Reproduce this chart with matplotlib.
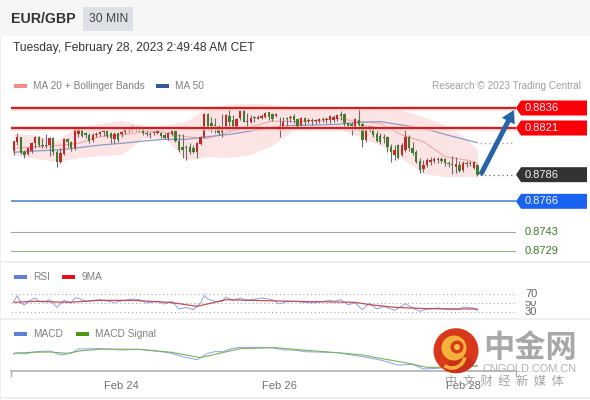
import matplotlib
matplotlib.use("Agg")
import matplotlib.pyplot as plt
from matplotlib.patches import Rectangle, Polygon, Circle, Arc, Wedge

plt.rcParams['font.family'] = ['Liberation Sans', 'DejaVu Sans']

# ---------- data (prices in 1e-4 units) ----------
opens = [8804,8810.8,8814.5,8802.8,8801.2,8803.8,8809.5,8814.5,8808.2,8808.2,8808.2,8813.2,8803.2,8795.8,8801.2,8812.5,8810.2,8805.8,8816.2,8820.8,8817,8815.8,8812,8815.8,8816.2,8817.8,8818.8,8817,8812.5,8817,8816.2,8817.8,8819.2,8819.5,8820.2,8821.2,8820,8817.5,8816.2,8817,8817.5,8817,8815.8,8813.8,8816.2,8818.8,8811.2,8807,8807,8807,8805.8,8803.2,8808.8,8814.5,8831.2,8824.5,8823.2,8822.5,8817.8,8820.8,8830.2,8827,8822,8828.2,8833.8,8825.2,8825.8,8828.8,8827.8,8828.2,8829.5,8832.8,8831.2,8830.2,8819.5,8822,8828.8,8828.2,8830.2,8827.8,8823.2,8828.8,8826.2,8826.8,8826.2,8826.5,8827.8,8826.8,8827,8827,8827.8,8831.2,8831.2,8824.5,8823.8,8820.8,8827,8823.8,8812,8819.5,8822.5,8816.2,8815.2,8813.8,8814.5,8807,8800.8,8808.2,8800.8,8804.5,8814.5,8806.2,8802.8,8796.2,8790.2,8793.2,8795.8,8796.2,8796.8,8797.5,8797.5,8795,8794,8792,8793.2,8789.5,8794,8795,8791.2,8793.2]
highs = [8811.2,8817,8814.5,8804.5,8807,8810.2,8815,8815,8813.2,8816.2,8814.5,8814.5,8804.5,8805.8,8813.2,8813.2,8811.2,8821.2,8822.8,8822,8818.2,8817,8817,8817.8,8818.8,8819.8,8819.5,8818.2,8817.8,8817,8818.8,8821.2,8821.2,8823.2,8822.8,8822,8821.2,8818.8,8817.8,8818.8,8819.5,8818.2,8817,8818.2,8819.5,8819.5,8816.2,8816.2,8808.2,8809.5,8808.2,8810.2,8815.2,8832,8832,8829.5,8828.8,8823.2,8831.2,8831.2,8835.2,8830.8,8828.8,8834.5,8835.2,8832,8830.8,8830.2,8830.8,8831.2,8833.2,8833.2,8832,8832,8829.5,8829.5,8829.5,8830.8,8831.2,8828.8,8829.5,8829.5,8828.8,8828.2,8827.8,8828.8,8829.2,8829.5,8830.8,8830.8,8831.2,8833.8,8832,8825.8,8825.8,8828.8,8835.8,8824.5,8823.2,8823.2,8822.8,8818.8,8817,8816.2,8815,8808.8,8808.2,8808.8,8809.5,8819.5,8815.8,8810.8,8804.5,8798.2,8797,8798.2,8799.5,8799.5,8799.5,8799.5,8798.2,8796.2,8800.2,8799.5,8796.2,8796.2,8796.2,8796.2,8796.2,8793.8]
lows = [8800.8,8808.2,8801.2,8798.8,8800.8,8802,8805.8,8807,8806.2,8806.2,8800.2,8800.8,8792,8794.5,8800.8,8807,8803.8,8804.5,8814.5,8814.5,8813.2,8809.5,8810.8,8814.5,8815.2,8815.2,8813.8,8809.5,8809.5,8810.2,8814.5,8816.2,8818.2,8818.8,8818.8,8818.8,8815.8,8815.2,8813.2,8815.8,8816.2,8813.2,8812.8,8812,8815.2,8810.2,8803.2,8798.2,8797,8801.2,8802,8798.2,8808.2,8813.2,8819.5,8818.2,8817,8815.8,8814.5,8819.5,8819.5,8819.5,8819.5,8827,8825.2,8820.8,8824.5,8825.2,8827.8,8827.8,8828.8,8827,8826.2,8829.5,8814.5,8819.5,8820.8,8825.2,8824.5,8820.8,8821.2,8823.2,8824.5,8823.2,8823.8,8824.5,8825.2,8824.5,8824.5,8825.2,8826.2,8827,8822,8820.8,8815.8,8819.5,8819.5,8807,8810.8,8818.2,8814.5,8810.8,8808.8,8809.5,8803.2,8795.8,8797,8797.8,8800.2,8803.2,8803.8,8800.8,8794.5,8787,8787.8,8792,8793.2,8794.5,8794.5,8794.5,8792.8,8792,8786.2,8787,8787.8,8788.2,8792,8792.8,8790.2,8784.8]
closes = [8811.2,8814.5,8802,8800.8,8805.8,8810,8814.5,8808.2,8807.5,8807.8,8813.8,8802.8,8795.8,8802,8812.8,8810.2,8805.8,8820.8,8820.8,8815.2,8815.8,8811.2,8815.8,8816.5,8817.8,8818.8,8815.2,8813.2,8816.5,8812,8817.8,8820,8820,8822,8822,8820,8817,8816.2,8815.8,8818.2,8818.8,8815.2,8813.8,8817,8818.8,8811.2,8804.5,8804.5,8806.2,8803.2,8803.2,8809.5,8814.5,8831.2,8822,8822.8,8822.5,8817,8822,8830.8,8825.8,8820.8,8827.8,8833.8,8825.8,8826.2,8828.8,8828.2,8829.5,8830.2,8832,8829.5,8827.8,8831.2,8822.5,8825.2,8827.8,8828.8,8827,8822,8828.8,8825.8,8827,8826,8826.8,8827.5,8826.8,8827.8,8830.2,8829.5,8830.8,8830.2,8824.5,8822.8,8822.8,8827.8,8823.2,8812,8819.5,8822.8,8815.8,8811.2,8810.8,8814.5,8807,8802.8,8804.5,8798.8,8808.2,8814.5,8805.8,8802,8795.8,8789.5,8793.2,8797,8797,8797.5,8797.8,8796.2,8794.5,8794.2,8793.2,8794,8788.8,8795,8795,8794,8795.2,8785.8]

band_idx = [0,6,12,18,24,30,36,42,48,54,60,66,72,78,84,90,96,102,108,114,120,126,129]
bb_upper = [8817,8815.8,8812,8822,8824.5,8826.8,8823.2,8823.2,8825.8,8837,8838.8,8839.5,8838.8,8837,8835.8,8834.5,8835.8,8835.2,8834.5,8829.5,8823.2,8813.2,8804.5]
bb_lower = [8800.8,8798.2,8795.8,8798.8,8800.2,8801.2,8813.2,8813.2,8797,8799.5,8798.8,8801.2,8808.2,8819.5,8820.8,8820.8,8814.5,8808.2,8798.2,8787,8784.5,8784.5,8784.5]
ma20 = [8805.8,8807,8807.8,8809.5,8814.5,8815.8,8818.2,8817.8,8814.5,8813.2,8818.2,8822,8826.2,8825.8,8826.2,8828.2,8825.8,8824.5,8815.8,8810.8,8799.5,8797,8794.5]
ma50 = [8802.8,8803.8,8804.5,8806.2,8808.2,8809.5,8811.2,8812.5,8812.5,8814.5,8816.2,8818.8,8821.5,8823,8823.2,8823.8,8825.2,8825.8,8823.2,8820.8,8816.2,8812,8810]

levels_main = [8836, 8821]
level_current = 8786
level_blue = 8766
levels_green = [8743, 8729]

rsi_idx = [0,1,2,3,4,6,7,9,10,12,14,16,17,18,20,24,28,31,33,35,37,40,42,44,46,48,50,52,53,54,56,58,59,61,63,65,69,72,74,76,78,83,88,89,91,93,95,97,99,101,103,106,109,111,113,115,118,121,124,125,128,129]
rsi = [53.7,66.3,50,45.6,53.7,61.1,53.7,53.7,57.4,40.4,55.9,50,61.1,60.4,53.7,57.4,51.5,55.9,58.9,57.4,50,53.7,47.8,53.7,36.7,40.4,35.2,50,67,58.9,53.7,53.7,63.3,55.9,61.1,55.9,61.1,57.4,47.8,53.7,53.7,50,55.9,53.7,57.4,46.3,50,35.2,50,36.7,42.6,33.7,48.5,38.9,31.5,36.7,38.9,35.2,35.2,41.1,38.9,33.7]
rsi_ma_idx = [0,6,15,24,33,43,46,51,56,59,66,78,95,99,106,115,128,129]
rsi_ma = [51.5,53.7,51.5,55.9,55.9,51.5,48.5,42.6,51.5,57.4,55.9,53.7,51.5,46.3,40.4,37.4,36.7,36]

macd_idx = [0,1,3,6,10,13,16,18,24,30,35,41,44,47,51,54,56,58,61,63,69,72,75,78,81,90,97,102,107,111,114,118,122,129]
macd = [1.8,2.2,1.8,2.5,2.7,1.5,2,3.3,3.4,3,3.2,2.5,2,1,.1,2,2.5,2.5,3.5,3.8,3.8,3.7,3,3,2.5,2.2,1,0,-1.5,-1.3,-2.7,-2.5,-2,-1.8]
sig_idx = [0,5,10,15,19,25,35,44,52,56,63,73,78,90,97,103,109,115,120,129]
macd_signal = [2,2.3,2.4,2,2.8,3.3,3.2,2.3,.7,1.7,3.4,3.7,3.2,2.2,1.5,.3,-.8,-2.2,-2.2,-1.8]

date_ticks = [30, 74, 125]
date_labels = ['Feb 24', 'Feb 26', 'Feb 28']

# ---------- layout ----------
W, H = 590, 400
fig = plt.figure(figsize=(W/100, H/100), dpi=100, facecolor='white')

def rect(x0, y0, x1, y1):
    return [x0/W, 1-y1/H, (x1-x0)/W, (y1-y0)/H]

X0, X1 = 11, 516
def ix(px):
    return (px-13.7)/3.594
xl = (ix(X0), ix(X1))

bg = fig.add_axes([0, 0, 1, 1], zorder=0)
bg.set_xlim(0, W); bg.set_ylim(H, 0); bg.axis('off')
bg.add_patch(Rectangle((0, 0), W, 36, fc='#f6f6f6', ec='none'))
bg.add_patch(Rectangle((83, 7), 50, 24, fc='#dde0e6', ec='none'))
bg.add_patch(Rectangle((0, 36), 1, H, fc='#eeeeee', ec='none'))
for y, c in [(262, '#eceef0'), (319, '#eceef0'), (398, '#eceef0')]:
    bg.plot([0, W], [y, y], color=c, lw=1.2)
bg.text(11, 19, 'EUR/GBP', fontsize=10.2, fontweight='bold', color='#333333', va='center')
bg.text(89, 19, '30 MIN', fontsize=8.7, color='#444444', va='center')
bg.text(13, 48, 'Tuesday, February 28, 2023 2:49:48 AM CET', fontsize=8.67, color='#333333', va='center')

def legend(x, y, c, label, tx):
    bg.add_patch(Rectangle((x, y-2), 12.5, 4, fc=c, ec='none'))
    bg.text(tx, y, label, fontsize=7.25, color='#808080', va='center')
legend(14, 86, '#f98a8a', 'MA 20 + Bollinger Bands', 33)
legend(156, 86, '#34589c', 'MA 50', 175)
legend(14, 277, '#5f7fdc', 'RSI', 33)
legend(62, 277, '#e8101c', '9MA', 82)
legend(14, 334, '#5f7fdc', 'MACD', 33)
legend(76, 334, '#4a9a10', 'MACD Signal', 95)
bg.text(581, 86, 'Research © 2023 Trading Central', fontsize=7.2, color='#a0a0a0', va='center', ha='right')

# ---------- main panel ----------
ax = fig.add_axes(rect(X0, 96, X1, 258), zorder=2)
ax.patch.set_alpha(0)
ax.axis('off')
ax.set_xlim(*xl)
ax.set_ylim(8836-(258-108)*0.75, 8836+(108-96)*0.75)

ax.fill_between(band_idx, bb_lower, bb_upper, color='#fde4e4', lw=0, zorder=1)
ax.plot(band_idx, ma20, color='#f4a5a5', lw=.8, zorder=2)
ax.plot(band_idx, ma50, color='#8a9cc4', lw=.9, zorder=2)

idx = list(range(len(closes)))
ax.vlines(idx, lows, highs, color='#6a6a6a', lw=.8, zorder=3)
for i, o, c in zip(idx, opens, closes):
    col = '#c22a28' if c >= o else '#3f7d2c'
    ax.bar(i, max(abs(c-o), .7), bottom=min(o, c), width=.66, color=col, lw=0, zorder=4)

for lv in levels_main:
    ax.axhline(lv, color='#fbcaca', lw=3.4, alpha=.7, zorder=5)
    ax.axhline(lv, color='#cf1f1f', lw=1.5, zorder=6)
ax.axhline(level_blue, color='#4a7bcf', lw=1.1, zorder=5)
for lv in levels_green:
    ax.axhline(lv, color='#8fb880', lw=.8, zorder=5)

ax.plot([129.8, ix(514)], [level_current]*2, color='#666666', lw=.9, ls=(0, (1, 2.5)), zorder=3)
ax.plot([129.8, ix(514)], [ma50[-1]]*2, color='#8f9fbf', lw=.9, ls=(0, (1, 2.5)), zorder=3)

ax.annotate('', xy=(ix(514), 8834.5), xytext=(ix(480.7), level_current),
            arrowprops=dict(width=3.6, headwidth=10.5, headlength=9, shrink=0, fc='#2a62a8', ec='#2a62a8', lw=0),
            zorder=7, annotation_clip=False)

def flag(level, label, color, tc='#f4f4f4'):
    hh = 7.5*0.75
    a, b, c = ix(516), ix(521), ix(587)
    ax.add_patch(Polygon([(a, level), (b, level+hh), (c, level+hh), (c, level-hh), (b, level-hh)],
                         closed=True, fc=color, ec='none', clip_on=False, zorder=8))
    ax.text(ix(525), level, label, color=tc, fontsize=8, va='center', zorder=9, clip_on=False)
flag(8836, '0.8836', '#fb0007')
flag(8821, '0.8821', '#fb0007')
flag(8786, '0.8786', '#333333')
flag(8766, '0.8766', '#1a62f0')
ax.text(ix(525), 8743, '0.8743', color='#3a7a22', fontsize=8, va='center', clip_on=False)
ax.text(ix(525), 8729, '0.8729', color='#3a7a22', fontsize=8, va='center', clip_on=False)

# ---------- RSI ----------
rax = fig.add_axes(rect(X0, 285, X1, 319), zorder=2)
rax.patch.set_alpha(0); rax.axis('off')
rax.set_xlim(*xl)
rax.set_ylim(50-(319-303)*20/9, 50+(303-285)*20/9)
for lv in (70, 50, 30):
    rax.axhline(lv, color='#aaaaaa', lw=.8, ls=(0, (1, 2.5)), zorder=1)
rax.plot(rsi_idx, rsi, color='#8ba2e4', lw=.7, zorder=2)
rax.plot(rsi_ma_idx, rsi_ma, color='#c0303c', lw=.9, alpha=.85, zorder=3)
for lv, y in [(50, 303.5), (30, 312), (70, 294)]:
    bg.text(525, y, str(lv), fontsize=8, color='#666666', va='center')
    if lv == 50:
        bg.add_patch(Rectangle((522, 297), 20, 4, fc='white', ec='none', zorder=3))
bg.add_patch(Rectangle((522, 315.3), 20, 3, fc='white', ec='none', zorder=3))

# ---------- MACD ----------
max_ = fig.add_axes(rect(X0, 320, X1, 371), zorder=2)
max_.patch.set_alpha(0)
max_.set_xlim(*xl)
max_.set_ylim(-3.3, 12)
for s in ('top', 'left', 'right'):
    max_.spines[s].set_visible(False)
max_.spines['bottom'].set_color('#aaaaaa')
max_.spines['bottom'].set_linewidth(1.1)
max_.set_yticks([])
max_.plot(macd_idx, macd, color='#8ba2e4', lw=.7, zorder=3)
max_.plot(sig_idx, macd_signal, color='#7ab35a', lw=.8, zorder=3)
max_.set_xticks(date_ticks)
max_.set_xticklabels(date_labels, fontsize=8, color='#707070')
max_.tick_params(axis='x', length=0, pad=7.5)
for px in (X0, X1):
    bg.plot([px, px], [371, 376], color='#aaaaaa', lw=1)

# ---------- watermark ----------
wm = fig.add_axes([0, 0, 1, 1], zorder=5)
wm.set_xlim(0, W); wm.set_ylim(H, 0); wm.axis('off'); wm.patch.set_alpha(0)
wm.add_patch(Circle((456, 350.7), 22.5, fc='#d8391a', ec='none'))
wm.add_patch(Wedge((456, 350.7), 22.5, 30, 120, fc='#c92f1a', ec='none'))
wm.add_patch(Circle((454, 348), 12.5, fc='#f5b23a', ec='none'))
wm.add_patch(Circle((457, 347), 6.5, fc='#d8391a', ec='none'))
wm.add_patch(Circle((457, 347), 3, fc='#f7c24a', ec='none'))
wm.add_patch(Arc((452, 355), 26, 26, theta1=10, theta2=125, color='#f5b23a', lw=2.6))
cjk = ['Noto Sans CJK SC', 'DejaVu Sans']
wm.text(530.5, 347.5, '中金网', family=cjk, fontsize=22.5, fontweight='bold', color='#a8a8a8', ha='center', va='center')
wm.text(530, 368.5, 'CNGOLD.COM.CN', fontsize=7.9, color='#b0b0b0', ha='center', va='center')
wm.text(504, 381, '中  文  财  经  新  媒  体', family=cjk, fontsize=8.8, color='#999999', ha='center', va='center', alpha=.9)

fig.savefig('out.png', dpi=100)
